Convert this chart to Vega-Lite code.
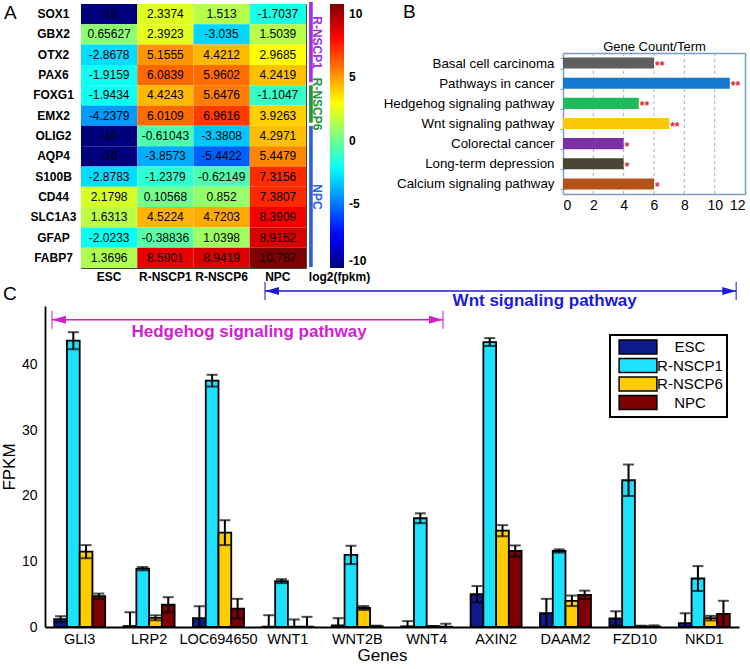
{
  "$schema": "https://vega.github.io/schema/vega-lite/v6.json",
  "background": "white",
  "padding": {"left": 0, "top": -3, "right": 0, "bottom": 0},
  "bounds": "full",
  "spacing": -2,
  "config": {
    "font": "Liberation Sans",
    "view": {"stroke": null},
    "axis": {"labelColor": "black", "titleColor": "black"},
    "locale": {"number": {"decimal": ".", "thousands": ",", "grouping": [3], "currency": ["$", ""], "minus": "-"}}
  },
  "datasets": {
    "heat": [
      {"gene": "SOX1", "sample": "ESC", "value": -10}, {"gene": "SOX1", "sample": "R-NSCP1", "value": 2.3374}, {"gene": "SOX1", "sample": "R-NSCP6", "value": 1.513}, {"gene": "SOX1", "sample": "NPC", "value": -1.7037},
      {"gene": "GBX2", "sample": "ESC", "value": 0.65627}, {"gene": "GBX2", "sample": "R-NSCP1", "value": 2.3923}, {"gene": "GBX2", "sample": "R-NSCP6", "value": -3.035}, {"gene": "GBX2", "sample": "NPC", "value": 1.5039},
      {"gene": "OTX2", "sample": "ESC", "value": -2.8678}, {"gene": "OTX2", "sample": "R-NSCP1", "value": 5.1555}, {"gene": "OTX2", "sample": "R-NSCP6", "value": 4.4212}, {"gene": "OTX2", "sample": "NPC", "value": 2.9685},
      {"gene": "PAX6", "sample": "ESC", "value": -1.9159}, {"gene": "PAX6", "sample": "R-NSCP1", "value": 6.0839}, {"gene": "PAX6", "sample": "R-NSCP6", "value": 5.9602}, {"gene": "PAX6", "sample": "NPC", "value": 4.2419},
      {"gene": "FOXG1", "sample": "ESC", "value": -1.9434}, {"gene": "FOXG1", "sample": "R-NSCP1", "value": 4.4243}, {"gene": "FOXG1", "sample": "R-NSCP6", "value": 5.6476}, {"gene": "FOXG1", "sample": "NPC", "value": -1.1047},
      {"gene": "EMX2", "sample": "ESC", "value": -4.2379}, {"gene": "EMX2", "sample": "R-NSCP1", "value": 6.0109}, {"gene": "EMX2", "sample": "R-NSCP6", "value": 6.9616}, {"gene": "EMX2", "sample": "NPC", "value": 3.9263},
      {"gene": "OLIG2", "sample": "ESC", "value": -10}, {"gene": "OLIG2", "sample": "R-NSCP1", "value": -0.61043}, {"gene": "OLIG2", "sample": "R-NSCP6", "value": -3.3808}, {"gene": "OLIG2", "sample": "NPC", "value": 4.2971},
      {"gene": "AQP4", "sample": "ESC", "value": -10}, {"gene": "AQP4", "sample": "R-NSCP1", "value": -3.8573}, {"gene": "AQP4", "sample": "R-NSCP6", "value": -5.4422}, {"gene": "AQP4", "sample": "NPC", "value": 5.4479},
      {"gene": "S100B", "sample": "ESC", "value": -2.8783}, {"gene": "S100B", "sample": "R-NSCP1", "value": -1.2379}, {"gene": "S100B", "sample": "R-NSCP6", "value": -0.62149}, {"gene": "S100B", "sample": "NPC", "value": 7.3156},
      {"gene": "CD44", "sample": "ESC", "value": 2.1798}, {"gene": "CD44", "sample": "R-NSCP1", "value": 0.10568}, {"gene": "CD44", "sample": "R-NSCP6", "value": 0.852}, {"gene": "CD44", "sample": "NPC", "value": 7.3807},
      {"gene": "SLC1A3", "sample": "ESC", "value": 1.6313}, {"gene": "SLC1A3", "sample": "R-NSCP1", "value": 4.5224}, {"gene": "SLC1A3", "sample": "R-NSCP6", "value": 4.7203}, {"gene": "SLC1A3", "sample": "NPC", "value": 8.3909},
      {"gene": "GFAP", "sample": "ESC", "value": -2.0233}, {"gene": "GFAP", "sample": "R-NSCP1", "value": -0.38836}, {"gene": "GFAP", "sample": "R-NSCP6", "value": 1.0398}, {"gene": "GFAP", "sample": "NPC", "value": 8.9152},
      {"gene": "FABP7", "sample": "ESC", "value": 1.3696}, {"gene": "FABP7", "sample": "R-NSCP1", "value": 8.5901}, {"gene": "FABP7", "sample": "R-NSCP6", "value": 8.9419}, {"gene": "FABP7", "sample": "NPC", "value": 10.787}
    ],
    "groups": [
      {"group": "R-NSCP1", "start": -0.1, "end": 3.85, "mid": 1.9},
      {"group": "R-NSCP6", "start": 4.0, "end": 5.85, "mid": 4.93},
      {"group": "NPC", "start": 6.0, "end": 12.95, "mid": 9.5}
    ],
    "terms": [
      {"term": "Basal cell carcinoma", "count": 6, "stars": "**"},
      {"term": "Pathways in cancer", "count": 11, "stars": "**"},
      {"term": "Hedgehog signaling pathway", "count": 5, "stars": "**"},
      {"term": "Wnt signaling pathway", "count": 7, "stars": "**"},
      {"term": "Colorectal cancer", "count": 4, "stars": "*"},
      {"term": "Long-term depression", "count": 4, "stars": "*"},
      {"term": "Calcium signaling pathway", "count": 6, "stars": "*"}
    ],
    "gridlines": [{"g": 2}, {"g": 4}, {"g": 6}, {"g": 8}, {"g": 10}],
    "fpkm": [
      {"gene": "GLI3", "sample": "ESC", "fpkm": 1.2, "lo": 0.75, "hi": 1.65},
      {"gene": "GLI3", "sample": "R-NSCP1", "fpkm": 43.7, "lo": 42.4, "hi": 45.0},
      {"gene": "GLI3", "sample": "R-NSCP6", "fpkm": 11.5, "lo": 10.5, "hi": 12.5},
      {"gene": "GLI3", "sample": "NPC", "fpkm": 4.7, "lo": 4.3, "hi": 5.1},
      {"gene": "LRP2", "sample": "ESC", "fpkm": 0.15, "lo": 0, "hi": 2.25},
      {"gene": "LRP2", "sample": "R-NSCP1", "fpkm": 8.9, "lo": 8.65, "hi": 9.15},
      {"gene": "LRP2", "sample": "R-NSCP6", "fpkm": 1.4, "lo": 1.02, "hi": 1.78},
      {"gene": "LRP2", "sample": "NPC", "fpkm": 3.4, "lo": 2.25, "hi": 4.55},
      {"gene": "LOC694650", "sample": "ESC", "fpkm": 1.37, "lo": 0, "hi": 3.17},
      {"gene": "LOC694650", "sample": "R-NSCP1", "fpkm": 37.6, "lo": 36.7, "hi": 38.5},
      {"gene": "LOC694650", "sample": "R-NSCP6", "fpkm": 14.4, "lo": 12.5, "hi": 16.3},
      {"gene": "LOC694650", "sample": "NPC", "fpkm": 2.8, "lo": 1.3, "hi": 4.3},
      {"gene": "WNT1", "sample": "ESC", "fpkm": 0.05, "lo": 0, "hi": 1.8},
      {"gene": "WNT1", "sample": "R-NSCP1", "fpkm": 7.0, "lo": 6.7, "hi": 7.3},
      {"gene": "WNT1", "sample": "R-NSCP6", "fpkm": 0.05, "lo": 0, "hi": 1.15},
      {"gene": "WNT1", "sample": "NPC", "fpkm": 0.05, "lo": 0, "hi": 1.55},
      {"gene": "WNT2B", "sample": "ESC", "fpkm": 0.25, "lo": 0, "hi": 1.35},
      {"gene": "WNT2B", "sample": "R-NSCP1", "fpkm": 11.0, "lo": 9.6, "hi": 12.4},
      {"gene": "WNT2B", "sample": "R-NSCP6", "fpkm": 2.9, "lo": 2.6, "hi": 3.2},
      {"gene": "WNT2B", "sample": "NPC", "fpkm": 0.1, "lo": 0, "hi": 0.2},
      {"gene": "WNT4", "sample": "ESC", "fpkm": 0.1, "lo": 0, "hi": 0.9},
      {"gene": "WNT4", "sample": "R-NSCP1", "fpkm": 16.6, "lo": 15.85, "hi": 17.35},
      {"gene": "WNT4", "sample": "R-NSCP6", "fpkm": 0.1, "lo": 0.05, "hi": 0.15},
      {"gene": "WNT4", "sample": "NPC", "fpkm": 0.05, "lo": 0, "hi": 0.5},
      {"gene": "AXIN2", "sample": "ESC", "fpkm": 5.0, "lo": 3.75, "hi": 6.25},
      {"gene": "AXIN2", "sample": "R-NSCP1", "fpkm": 43.5, "lo": 42.9, "hi": 44.1},
      {"gene": "AXIN2", "sample": "R-NSCP6", "fpkm": 14.7, "lo": 13.85, "hi": 15.55},
      {"gene": "AXIN2", "sample": "NPC", "fpkm": 11.6, "lo": 10.75, "hi": 12.45},
      {"gene": "DAAM2", "sample": "ESC", "fpkm": 2.1, "lo": 0, "hi": 4.3},
      {"gene": "DAAM2", "sample": "R-NSCP1", "fpkm": 11.6, "lo": 11.35, "hi": 11.85},
      {"gene": "DAAM2", "sample": "R-NSCP6", "fpkm": 4.0, "lo": 3.2, "hi": 4.8},
      {"gene": "DAAM2", "sample": "NPC", "fpkm": 4.9, "lo": 4.25, "hi": 5.55},
      {"gene": "FZD10", "sample": "ESC", "fpkm": 1.3, "lo": 0.2, "hi": 2.4},
      {"gene": "FZD10", "sample": "R-NSCP1", "fpkm": 22.4, "lo": 20.0, "hi": 24.8},
      {"gene": "FZD10", "sample": "R-NSCP6", "fpkm": 0.1, "lo": 0, "hi": 0.2},
      {"gene": "FZD10", "sample": "NPC", "fpkm": 0.05, "lo": 0, "hi": 0.25},
      {"gene": "NKD1", "sample": "ESC", "fpkm": 0.6, "lo": 0, "hi": 2.1},
      {"gene": "NKD1", "sample": "R-NSCP1", "fpkm": 7.4, "lo": 5.5, "hi": 9.3},
      {"gene": "NKD1", "sample": "R-NSCP6", "fpkm": 1.35, "lo": 1.0, "hi": 1.7},
      {"gene": "NKD1", "sample": "NPC", "fpkm": 2.0, "lo": 0, "hi": 4.0}
    ],
    "arrows": [
      {"pathway": "Hedgehog signaling pathway", "x1": 0.1, "x2": 5.735, "y": 46.9, "tx": 2.94, "ty": 45.0},
      {"pathway": "Wnt signaling pathway", "x1": 3.17, "x2": 9.96, "y": 51.3, "tx": 7.2, "ty": 49.8}
    ]
  },
  "vconcat": [
    {
      "bounds": "full",
      "spacing": 12,
      "hconcat": [
        {
          "width": 225,
          "height": 264,
          "view": {"stroke": "#444444", "strokeWidth": 1},
          "title": {"text": "A", "anchor": "start", "frame": "group", "dx": -77, "dy": 36, "offset": 0, "fontSize": 19, "fontWeight": "normal", "baseline": "alphabetic", "color": "black"},
          "layer": [
            {
              "data": {"name": "heat"},
              "encoding": {
                "x": {"field": "sample", "type": "nominal", "sort": ["ESC", "R-NSCP1", "R-NSCP6", "NPC"], "scale": {"paddingInner": 0, "paddingOuter": 0},
                  "axis": {"orient": "bottom", "labelAngle": 0, "labelFontWeight": "bold", "labelFontSize": 12, "labelPadding": 3, "ticks": false, "tickSize": 0, "domain": false,
                    "title": "log2(fpkm)", "titleX": 258, "titleY": 3, "titleBaseline": "top", "titleAlign": "center", "titleFontWeight": "bold", "titleFontSize": 12}},
                "y": {"field": "gene", "type": "nominal", "sort": ["SOX1", "GBX2", "OTX2", "PAX6", "FOXG1", "EMX2", "OLIG2", "AQP4", "S100B", "CD44", "SLC1A3", "GFAP", "FABP7"], "scale": {"paddingInner": 0, "paddingOuter": 0},
                  "axis": {"title": null, "labelAlign": "center", "labelPadding": 28, "ticks": false, "tickSize": 0, "domain": false, "labelFontWeight": "bold", "labelFontSize": 12}}
              },
              "layer": [
                {
                  "mark": {"type": "rect"},
                  "encoding": {
                    "color": {"field": "value", "type": "quantitative",
                      "scale": {"domain": [-10, -7.4016, -2.2049, 2.9919, 8.1886, 10.787], "range": ["#00007f", "#0000ff", "#00ffff", "#ffff00", "#ff0000", "#7f0000"], "interpolate": "rgb"},
                      "legend": {"orient": "none", "legendX": 249, "legendY": 0, "direction": "vertical", "gradientLength": 264, "gradientThickness": 14, "title": null,
                        "values": [-10, -5, 0, 5, 10], "labelFontSize": 12, "labelFontWeight": "bold", "labelOffset": 5, "labelColor": "black", "gradientStrokeWidth": 0, "padding": 0}}
                  }
                },
                {
                  "mark": {"type": "text", "fontSize": 12, "color": "black"},
                  "encoding": {"text": {"field": "value", "type": "quantitative", "format": ".5~g"}}
                }
              ]
            },
            {
              "data": {"name": "groups"},
              "layer": [
                {
                  "mark": {"type": "rect"},
                  "encoding": {
                    "x": {"datum": 4.055, "type": "quantitative", "scale": {"domain": [0, 4], "nice": false, "zero": false}, "axis": null},
                    "x2": {"datum": 4.12},
                    "y": {"field": "start", "type": "quantitative", "scale": {"domain": [0, 13], "nice": false, "zero": false, "reverse": true}, "axis": null},
                    "y2": {"field": "end"},
                    "color": {"field": "group", "type": "nominal", "scale": {"domain": ["R-NSCP1", "R-NSCP6", "NPC"], "range": ["#a22ee6", "#23963a", "#2d5fe0"]}, "legend": null}
                  }
                },
                {
                  "mark": {"type": "text", "angle": 90, "fontSize": 12, "fontWeight": "bold", "baseline": "middle", "align": "center"},
                  "encoding": {
                    "x": {"datum": 4.2, "type": "quantitative"},
                    "y": {"field": "mid", "type": "quantitative"},
                    "text": {"field": "group"},
                    "color": {"field": "group", "type": "nominal", "legend": null}
                  }
                }
              ]
            }
          ],
          "resolve": {"scale": {"x": "independent", "y": "independent", "color": "independent"}, "axis": {"x": "independent", "y": "independent"}}
        },
        {
          "width": 182,
          "height": 190,
          "title": {"text": "B", "anchor": "start", "frame": "group", "dx": -160, "dy": 40, "offset": 0, "fontSize": 19, "fontWeight": "normal", "baseline": "alphabetic", "color": "black"},
          "layer": [
            {
              "data": {"name": "gridlines"},
              "mark": {"type": "rule", "strokeDash": [3, 3], "color": "#9a9a9a", "strokeWidth": 0.8},
              "encoding": {
                "x": {"field": "g", "type": "quantitative", "scale": {"domain": [0, 12], "nice": false}, "axis": null},
                "y": {"datum": 0, "type": "quantitative", "scale": {"domain": [0, 1], "range": [190, 49], "nice": false, "zero": false}, "axis": null},
                "y2": {"datum": 1}
              }
            },
            {
              "data": {"name": "terms"},
              "layer": [
                {
                  "mark": {"type": "bar"},
                  "encoding": {
                    "y": {"field": "term", "type": "nominal", "sort": null, "scale": {"range": [49, 190], "paddingInner": 0.45, "paddingOuter": 0.225},
                      "axis": {"title": null, "labelFontSize": 13.3, "labelPadding": 6, "domain": true, "domainColor": "#7b9ccb", "domainWidth": 1.5, "tickBand": "extent", "tickSize": 3, "tickColor": "#7b9ccb"}},
                    "x": {"field": "count", "type": "quantitative",
                      "axis": {"values": [0, 2, 4, 6, 8, 10, 12], "grid": false, "domain": true, "domainColor": "#7b9ccb", "domainWidth": 1.5,
                        "ticks": false, "tickSize": 0, "labelFontSize": 14, "labelPadding": 4, "title": null}},
                    "color": {"field": "term", "type": "nominal",
                      "scale": {"domain": ["Basal cell carcinoma", "Pathways in cancer", "Hedgehog signaling pathway", "Wnt signaling pathway", "Colorectal cancer", "Long-term depression", "Calcium signaling pathway"],
                        "range": ["#5e5e5e", "#1479cf", "#1fba5b", "#fdc80a", "#7d2fa8", "#4a4434", "#b3531a"]}, "legend": null}
                  }
                },
                {
                  "mark": {"type": "text", "align": "left", "baseline": "middle", "dx": 1, "dy": 3, "color": "#e3262b", "fontSize": 12, "fontWeight": "bold"},
                  "encoding": {
                    "y": {"field": "term", "type": "nominal", "sort": null,
                      "axis": {"orient": "right", "title": null, "labels": false, "ticks": false, "domain": true, "domainColor": "#7b9ccb", "domainWidth": 1.5, "grid": false}},
                    "x": {"field": "count", "type": "quantitative",
                      "axis": {"orient": "top", "offset": -49, "title": "Gene Count/Term", "labels": false, "ticks": false, "domain": true, "domainColor": "#7b9ccb", "domainWidth": 1.5, "grid": false,
                        "titleFontSize": 13, "titleFontWeight": "normal", "titlePadding": 3, "titleBaseline": "alphabetic"}},
                    "text": {"field": "stars"}
                  }
                }
              ],
              "resolve": {"axis": {"x": "independent", "y": "independent"}}
            }
          ],
          "resolve": {"scale": {"y": "independent"}, "axis": {"x": "independent", "y": "independent"}}
        }
      ]
    },
    {
      "width": 658,
      "height": 321,
      "title": {"text": "C", "anchor": "start", "frame": "group", "dx": -78, "dy": 37, "offset": 0, "fontSize": 19, "fontWeight": "normal", "baseline": "alphabetic", "color": "black"},
      "layer": [
        {
          "data": {"name": "fpkm"},
          "encoding": {
            "x": {"field": "gene", "type": "nominal", "sort": ["GLI3", "LRP2", "LOC694650", "WNT1", "WNT2B", "WNT4", "AXIN2", "DAAM2", "FZD10", "NKD1"],
              "scale": {"range": [-36, 658], "paddingInner": 0.265, "paddingOuter": 0.1325},
              "axis": {"title": "Genes", "labelAngle": 0, "labelFontSize": 14.5, "labelPadding": 5, "ticks": false, "tickSize": 0, "domainColor": "black", "domainWidth": 1.8,
                "titleFontSize": 17, "titleFontWeight": "normal", "titlePadding": 2, "titleX": 301, "titleAlign": "center"}},
            "xOffset": {"field": "sample", "type": "nominal", "sort": ["ESC", "R-NSCP1", "R-NSCP6", "NPC"], "scale": {"paddingInner": 0, "paddingOuter": 0}}
          },
          "layer": [
            {
              "mark": {"type": "bar", "stroke": "black", "strokeWidth": 1.8},
              "encoding": {
                "y": {"field": "fpkm", "type": "quantitative", "scale": {"domain": [0, 49], "nice": false},
                  "axis": {"title": "FPKM", "offset": 36, "values": [0, 5, 10, 15, 20, 25, 30, 35, 40, 45], "labelFontSize": 14, "labelPadding": 8, "ticks": false, "tickSize": 0, "grid": false,
                    "domainColor": "black", "domainWidth": 1.8, "titleFontSize": 17, "titleFontWeight": "normal", "titlePadding": 3}},
                "color": {"field": "sample", "type": "nominal", "sort": ["ESC", "R-NSCP1", "R-NSCP6", "NPC"],
                  "scale": {"domain": ["ESC", "R-NSCP1", "R-NSCP6", "NPC"], "range": ["#0f1a8c", "#1ee0ff", "#ffcc00", "#7f0000"]},
                  "legend": {"orient": "none", "legendX": 529, "legendY": 29, "title": null, "symbolType": "M-2.7,-1H2.7V1H-2.7Z", "symbolSize": 196,
                    "symbolStrokeColor": "black", "symbolStrokeWidth": 1.5, "symbolOffset": 16, "labelFontSize": 15, "labelAlign": "center", "labelOffset": 44,
                    "labelColor": "black", "padding": 4, "rowPadding": -1.5, "strokeColor": "black", "fillColor": "white",
                    "encode": {"legend": {"update": {"strokeWidth": {"value": 2}}}}}}
              }
            },
            {
              "mark": {"type": "rule", "strokeWidth": 2, "color": "black"},
              "encoding": {
                "y": {"field": "lo", "type": "quantitative", "axis": {"title": "FPKM", "offset": 36, "values": [0, 5, 10, 15, 20, 25, 30, 35, 40, 45], "labelFontSize": 14, "labelPadding": 8, "ticks": false, "tickSize": 0, "grid": false, "domainColor": "black", "domainWidth": 1.8, "titleFontSize": 17, "titleFontWeight": "normal", "titlePadding": 3}},
                "y2": {"field": "hi"}
              }
            },
            {
              "mark": {"type": "tick", "size": 11, "thickness": 2, "color": "black"},
              "encoding": {"y": {"field": "hi", "type": "quantitative", "axis": {"title": "FPKM", "offset": 36, "values": [0, 5, 10, 15, 20, 25, 30, 35, 40, 45], "labelFontSize": 14, "labelPadding": 8, "ticks": false, "tickSize": 0, "grid": false, "domainColor": "black", "domainWidth": 1.8, "titleFontSize": 17, "titleFontWeight": "normal", "titlePadding": 3}}}
            },
            {
              "mark": {"type": "tick", "size": 11, "thickness": 2, "color": "black"},
              "encoding": {"y": {"field": "lo", "type": "quantitative", "axis": {"title": "FPKM", "offset": 36, "values": [0, 5, 10, 15, 20, 25, 30, 35, 40, 45], "labelFontSize": 14, "labelPadding": 8, "ticks": false, "tickSize": 0, "grid": false, "domainColor": "black", "domainWidth": 1.8, "titleFontSize": 17, "titleFontWeight": "normal", "titlePadding": 3}}}
            }
          ]
        },
        {
          "data": {"name": "arrows"},
          "layer": [
            {
              "mark": {"type": "rule", "strokeWidth": 1.5},
              "encoding": {
                "x": {"field": "x1", "type": "quantitative", "scale": {"domain": [0, 10], "range": [-36, 658], "nice": false, "zero": false}, "axis": null},
                "x2": {"field": "x2"},
                "y": {"field": "y", "type": "quantitative", "axis": {"title": "FPKM", "offset": 36, "values": [0, 5, 10, 15, 20, 25, 30, 35, 40, 45], "labelFontSize": 14, "labelPadding": 8, "ticks": false, "tickSize": 0, "grid": false, "domainColor": "black", "domainWidth": 1.8, "titleFontSize": 17, "titleFontWeight": "normal", "titlePadding": 3}},
                "color": {"field": "pathway", "type": "nominal", "scale": {"domain": ["Wnt signaling pathway", "Hedgehog signaling pathway"], "range": ["#1b1bd9", "#d21fd2"]}, "legend": null}
              }
            },
            {
              "transform": [{"fold": ["x1", "x2"], "as": ["end", "xpos"]}],
              "mark": {"type": "tick", "orient": "vertical", "size": 18, "thickness": 1.5},
              "encoding": {
                "x": {"field": "xpos", "type": "quantitative"},
                "y": {"field": "y", "type": "quantitative"},
                "color": {"field": "pathway", "type": "nominal", "legend": null}
              }
            },
            {
              "transform": [{"fold": ["x1", "x2"], "as": ["end", "xpos"]}],
              "mark": {"type": "point", "filled": true, "size": 100, "opacity": 1},
              "encoding": {
                "x": {"field": "xpos", "type": "quantitative"},
                "y": {"field": "y", "type": "quantitative"},
                "shape": {"field": "end", "type": "nominal", "scale": {"domain": ["x1", "x2"], "range": ["M0,0L2.8,-0.8L2.8,0.8Z", "M0,0L-2.8,-0.8L-2.8,0.8Z"]}, "legend": null},
                "color": {"field": "pathway", "type": "nominal", "legend": null}
              }
            },
            {
              "mark": {"type": "text", "fontSize": 17, "fontWeight": "bold", "baseline": "middle", "align": "center"},
              "encoding": {
                "x": {"field": "tx", "type": "quantitative"},
                "y": {"field": "ty", "type": "quantitative"},
                "text": {"field": "pathway"},
                "color": {"field": "pathway", "type": "nominal", "legend": null}
              }
            }
          ]
        }
      ],
      "resolve": {"scale": {"x": "independent", "color": "independent"}, "axis": {"x": "independent"}}
    }
  ]
}
